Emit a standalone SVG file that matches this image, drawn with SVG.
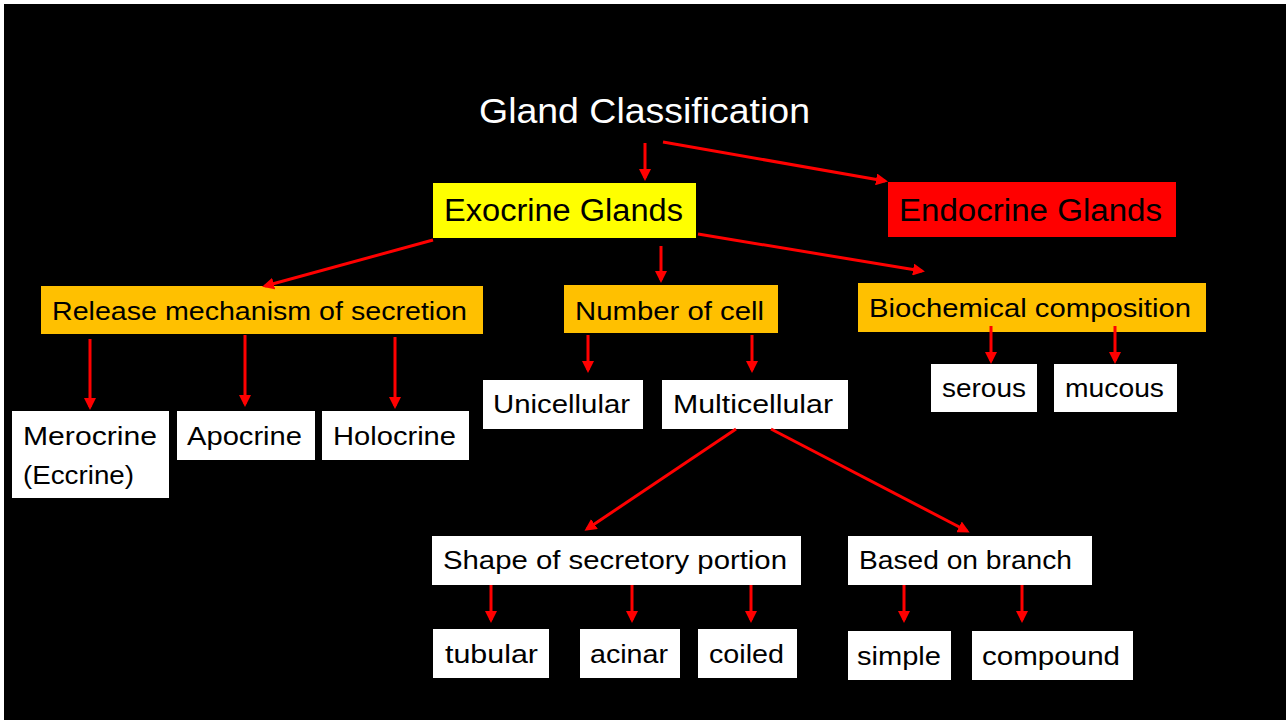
<svg xmlns="http://www.w3.org/2000/svg" width="1286" height="720" viewBox="0 0 1286 720">
<defs>
<marker id="ah" markerUnits="userSpaceOnUse" markerWidth="12" markerHeight="12" refX="9" refY="6" orient="auto">
<path d="M0,0 L12,6 L0,12 z" fill="#FF0000"/>
</marker>
<style>
text{font-family:"Liberation Sans",Arial,sans-serif;fill:#000;}
.t26{font-size:25px;}
.t32{font-size:31px;}
.white{fill:#FFFFFF;}
.orange{fill:#FFC000;}
.box{fill:#FFFFFF;}
.edges line{stroke:#FF0000;stroke-width:3;marker-end:url(#ah);}
</style>
</defs>
<rect x="0" y="0" width="1286" height="720" fill="#FFFFFF"/>
<rect x="4" y="4" width="1282" height="716" fill="#000000"/>

<g id="title">
<text x="479" y="123" font-size="35" style="fill:#FFFFFF" textLength="331" lengthAdjust="spacingAndGlyphs">Gland Classification</text>
</g>

<g id="exocrine">
<rect x="433" y="183" width="263" height="55" fill="#FFFF00"/>
<text class="t32" x="444" y="221" textLength="239" lengthAdjust="spacingAndGlyphs">Exocrine Glands</text>
</g>
<g id="endocrine">
<rect x="888" y="182" width="288" height="55" fill="#FF0000"/>
<text class="t32" x="899" y="221" textLength="263" lengthAdjust="spacingAndGlyphs">Endocrine Glands</text>
</g>

<g id="release">
<rect class="orange" x="41" y="286" width="442" height="48"/>
<text class="t26" x="52" y="320" textLength="415" lengthAdjust="spacingAndGlyphs">Release mechanism of secretion</text>
</g>
<g id="number">
<rect class="orange" x="564" y="285" width="214" height="48"/>
<text class="t26" x="575" y="320" textLength="189" lengthAdjust="spacingAndGlyphs">Number of cell</text>
</g>
<g id="biochemical">
<rect class="orange" x="858" y="283" width="348" height="49"/>
<text class="t26" x="869" y="317" textLength="322" lengthAdjust="spacingAndGlyphs">Biochemical composition</text>
</g>

<g id="merocrine">
<rect class="box" x="12" y="411" width="157" height="87"/>
<text class="t26" x="23" y="445" textLength="134" lengthAdjust="spacingAndGlyphs">Merocrine</text>
<text class="t26" x="23" y="484" textLength="111" lengthAdjust="spacingAndGlyphs">(Eccrine)</text>
</g>
<g id="apocrine">
<rect class="box" x="177" y="411" width="138" height="49"/>
<text class="t26" x="187" y="445" textLength="115" lengthAdjust="spacingAndGlyphs">Apocrine</text>
</g>
<g id="holocrine">
<rect class="box" x="322" y="411" width="147" height="49"/>
<text class="t26" x="333" y="445" textLength="123" lengthAdjust="spacingAndGlyphs">Holocrine</text>
</g>

<g id="unicellular">
<rect class="box" x="483" y="380" width="160" height="49"/>
<text class="t26" x="493" y="413" textLength="137" lengthAdjust="spacingAndGlyphs">Unicellular</text>
</g>
<g id="multicellular">
<rect class="box" x="662" y="380" width="186" height="49"/>
<text class="t26" x="673" y="413" textLength="160" lengthAdjust="spacingAndGlyphs">Multicellular</text>
</g>

<g id="serous">
<rect class="box" x="931" y="364" width="106" height="48"/>
<text class="t26" x="942" y="397" textLength="84" lengthAdjust="spacingAndGlyphs">serous</text>
</g>
<g id="mucous">
<rect class="box" x="1054" y="364" width="123" height="48"/>
<text class="t26" x="1065" y="397" textLength="99" lengthAdjust="spacingAndGlyphs">mucous</text>
</g>

<g id="shape">
<rect class="box" x="432" y="536" width="369" height="49"/>
<text class="t26" x="443" y="569" textLength="344" lengthAdjust="spacingAndGlyphs">Shape of secretory portion</text>
</g>
<g id="branch">
<rect class="box" x="848" y="536" width="244" height="49"/>
<text class="t26" x="859" y="569" textLength="213" lengthAdjust="spacingAndGlyphs">Based on branch</text>
</g>

<g id="tubular">
<rect class="box" x="433" y="629" width="116" height="49"/>
<text class="t26" x="445" y="663" textLength="93" lengthAdjust="spacingAndGlyphs">tubular</text>
</g>
<g id="acinar">
<rect class="box" x="580" y="629" width="100" height="49"/>
<text class="t26" x="590" y="663" textLength="78" lengthAdjust="spacingAndGlyphs">acinar</text>
</g>
<g id="coiled">
<rect class="box" x="698" y="629" width="99" height="49"/>
<text class="t26" x="709" y="663" textLength="75" lengthAdjust="spacingAndGlyphs">coiled</text>
</g>
<g id="simple">
<rect class="box" x="848" y="631" width="103" height="49"/>
<text class="t26" x="857" y="665" textLength="84" lengthAdjust="spacingAndGlyphs">simple</text>
</g>
<g id="compound">
<rect class="box" x="972" y="631" width="161" height="49"/>
<text class="t26" x="982" y="665" textLength="138" lengthAdjust="spacingAndGlyphs">compound</text>
</g>

<g id="connectors" class="edges">
<line x1="645" y1="143" x2="645" y2="178"/>
<line x1="663" y1="142" x2="885" y2="181"/>
<line x1="433" y1="240" x2="265" y2="286"/>
<line x1="661" y1="246" x2="661" y2="280"/>
<line x1="698" y1="234" x2="922" y2="271"/>
<line x1="90" y1="339" x2="90" y2="407"/>
<line x1="245" y1="335" x2="245" y2="404"/>
<line x1="395" y1="337" x2="395" y2="406"/>
<line x1="588" y1="335" x2="588" y2="370"/>
<line x1="752" y1="335" x2="752" y2="370"/>
<line x1="991" y1="326" x2="991" y2="361"/>
<line x1="1115" y1="326" x2="1115" y2="361"/>
<line x1="736" y1="429" x2="587" y2="529"/>
<line x1="771" y1="429" x2="967" y2="531"/>
<line x1="491" y1="585" x2="491" y2="620"/>
<line x1="632" y1="585" x2="632" y2="620"/>
<line x1="751" y1="585" x2="751" y2="620"/>
<line x1="904" y1="585" x2="904" y2="620"/>
<line x1="1022" y1="585" x2="1022" y2="620"/>
</g>
</svg>
